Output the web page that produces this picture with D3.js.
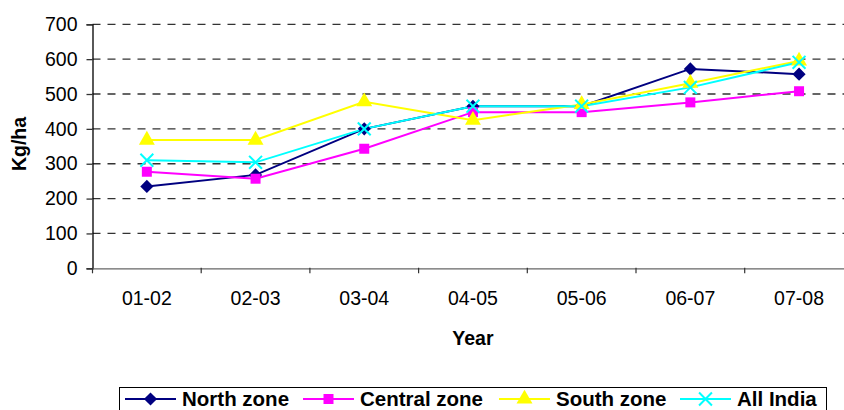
<!DOCTYPE html>
<html>
<head>
<meta charset="utf-8">
<script src="https://cdn.jsdelivr.net/npm/d3@7"></script>
<style>
  body { margin: 0; background: #fff; }
  text { font-family: Arial, "Liberation Sans", sans-serif; }
</style>
</head>
<body>
<script>
// data
const years = ["01-02", "02-03", "03-04", "04-05", "05-06", "06-07", "07-08"]
const north = [235, 268, 400, 465, 465, 572, 557]
const central = [277, 257, 343, 448, 448, 476, 508]
const south = [368, 368, 478, 425, 470, 531, 595]
const allIndia = [310, 304, 400, 465, 465, 519, 591]
const yTicks = [0, 100, 200, 300, 400, 500, 600, 700]

const series = [
  {name: "North zone", values: north, color: "#000080", symbol: d3.symbolDiamond2, size: 110},
  {name: "Central zone", values: central, color: "#ff00ff", symbol: d3.symbolSquare, size: 100},
  {name: "South zone", values: south, color: "#ffff00", symbol: d3.symbolTriangle, size: 110},
  {name: "All India", values: allIndia, color: "#00ffff", symbol: d3.symbolX, size: 110}
]

const w = 844
const h = 410
const plotLeft = 92.5
const band = 108.7
const plotTop = 24.3
const plotBottom = 268.3

const svg = d3.select("body").append("svg")
  .attr("width", w)
  .attr("height", h)

const x = d3.scaleBand()
  .domain(years)
  .range([plotLeft, plotLeft + band * years.length])

const y = d3.scaleLinear()
  .domain([0, 700])
  .range([plotBottom, plotTop])

// dashed gridlines
svg.append("g")
  .selectAll("line")
  .data(yTicks.filter(d => d > 0))
  .enter()
  .append("line")
  .attr("x1", plotLeft)
  .attr("x2", plotLeft + band * years.length)
  .attr("y1", d => y(d))
  .attr("y2", d => y(d))
  .attr("stroke", "#333")
  .attr("stroke-width", 1.3)
  .attr("stroke-dasharray", "8,7")

// y axis
const yAxis = svg.append("g")
  .attr("transform", "translate(" + plotLeft + ",0)")
  .call(d3.axisLeft(y).tickValues(yTicks).tickSize(6).tickPadding(9))
yAxis.select(".domain").attr("stroke", "#000").attr("stroke-width", 1.3)
yAxis.selectAll(".tick line").attr("stroke", "#333").attr("stroke-width", 1.3)
yAxis.selectAll("text").attr("font-size", 19.5).attr("fill", "#000")

// x axis
const xAxis = svg.append("g")
  .attr("transform", "translate(0," + plotBottom + ")")
  .call(d3.axisBottom(x).tickSize(0).tickPadding(23))
xAxis.select(".domain").attr("stroke", "#666").attr("stroke-width", 1.3)
xAxis.selectAll("text").attr("font-size", 19.5).attr("fill", "#000")
xAxis.selectAll(".tickmark")
  .data(years.concat(["end"]))
  .enter()
  .append("line")
  .attr("x1", (d, i) => plotLeft + band * i)
  .attr("x2", (d, i) => plotLeft + band * i)
  .attr("y1", -0.5)
  .attr("y2", 5)
  .attr("stroke", "#333")
  .attr("stroke-width", 1.2)

// axis titles
svg.append("text")
  .attr("x", x("04-05") + band / 2)
  .attr("y", 345)
  .attr("text-anchor", "middle")
  .attr("font-size", 19.5)
  .attr("font-weight", "bold")
  .text("Year")

svg.append("text")
  .attr("transform", "translate(26,144) rotate(-90)")
  .attr("text-anchor", "middle")
  .attr("font-size", 19.5)
  .attr("font-weight", "bold")
  .text("Kg/ha")

// lines and markers
const line = d3.line()
  .x((d, i) => x(years[i]) + band / 2)
  .y(d => y(d))

series.forEach(s => {
  svg.append("path")
    .datum(s.values)
    .attr("d", line)
    .attr("fill", "none")
    .attr("stroke", s.color)
    .attr("stroke-width", 2)
})

series.forEach(s => {
  svg.append("g")
    .selectAll("path")
    .data(s.values)
    .enter()
    .append("path")
    .attr("d", d3.symbol().type(s.symbol).size(s.size))
    .attr("transform", (d, i) => "translate(" + (x(years[i]) + band / 2) + "," + y(d) + ")")
    .attr("fill", s.symbol === d3.symbolX ? "none" : s.color)
    .attr("stroke", s.symbol === d3.symbolX ? s.color : "none")
    .attr("stroke-width", 2)
})

// legend
const legend = svg.append("g")
svg.append("rect")
  .attr("x", 119.5)
  .attr("y", 387.5)
  .attr("width", 707)
  .attr("height", 40)
  .attr("fill", "none")
  .attr("stroke", "#000")
  .attr("stroke-width", 1)

const legendX = [125, 303, 499, 680]
series.forEach((s, i) => {
  const g = legend.append("g").attr("transform", "translate(" + legendX[i] + ",399)")
  g.append("line")
    .attr("x1", 0).attr("x2", 51)
    .attr("stroke", s.color)
    .attr("stroke-width", 2)
  g.append("path")
    .attr("d", d3.symbol().type(s.symbol).size(s.size))
    .attr("transform", "translate(25.5,0)")
    .attr("fill", s.symbol === d3.symbolX ? "none" : s.color)
    .attr("stroke", s.symbol === d3.symbolX ? s.color : "none")
    .attr("stroke-width", 2)
  g.append("text")
    .attr("x", 57)
    .attr("y", 7)
    .attr("font-size", 20.5)
    .attr("font-weight", "bold")
    .text(s.name)
})
</script>
</body>
</html>
